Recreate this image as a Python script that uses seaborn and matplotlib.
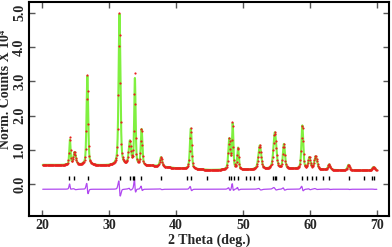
import numpy as np
import pandas as pd
import matplotlib
matplotlib.use('Agg')
import matplotlib.pyplot as plt
import seaborn as sns

# peak list: position (deg), total height (x10^4), fwhm (deg)
peak_pos = [24.15, 24.85, 26.75, 31.55, 33.1, 33.85, 34.85, 37.75, 42.2,
            47.95, 48.45, 49.25, 52.5, 54.75, 56.1, 58.85, 59.9, 60.85,
            62.85, 65.75, 69.5]
obs_height = [1.40, 0.92, 3.18, 4.98, 1.22, 3.20, 1.62, 0.78, 1.65,
              1.30, 1.82, 1.06, 1.12, 1.52, 1.16, 1.73, 0.76, 0.81,
              0.57, 0.56, 0.50]
calc_height = [1.28, 0.92, 3.15, 4.95, 1.22, 3.05, 1.58, 0.78, 1.62,
               1.30, 1.72, 1.04, 1.12, 1.50, 1.15, 1.70, 0.76, 0.80,
               0.57, 0.56, 0.50]
fwhm = [0.22, 0.45, 0.28, 0.32, 0.40, 0.24, 0.28, 0.40, 0.32,
        0.35, 0.24, 0.28, 0.50, 0.50, 0.35, 0.32, 0.40, 0.50,
        0.40, 0.40, 0.50]

# background level read at a few points
bg_x = [20, 25, 30, 35, 36.5, 40, 45, 50, 57.5, 60, 65, 70]
bg_y = [0.56, 0.55, 0.54, 0.52, 0.53, 0.46, 0.41, 0.41, 0.44, 0.42, 0.40, 0.39]

# Bragg reflection positions
bragg = [24.0, 24.7, 26.8, 31.6, 33.1, 33.6, 33.8, 34.7, 37.7, 41.7, 42.2,
         44.7, 47.9, 48.2, 48.6, 49.2, 50.5, 51.1, 51.7, 52.4, 54.5, 54.8,
         55.0, 56.1, 58.8, 59.6, 60.3, 60.9, 62.0, 62.8, 65.8, 68.0, 69.2, 69.5]

diff_offset = -0.15
bragg_level = 0.17
calc_shift = 0.012


def profile(x, heights, shift):
    bg = np.interp(x, bg_x, bg_y)
    y = bg.copy()
    for p, h, w in zip(peak_pos, heights, fwhm):
        amp = h - np.interp(p, bg_x, bg_y)
        hw = w / 2
        u = (x - p - shift) / hw
        y += amp * (0.5 / (1 + u ** 2) + 0.5 * np.exp(-np.log(2) * u ** 2))
    return y


tt = np.arange(20.1, 70.0, 0.02)
obs = profile(tt, obs_height, 0.0)
calc = profile(tt, calc_height, calc_shift)
df = pd.DataFrame({'tt': tt, 'obs': obs, 'calc': calc,
                   'diff': obs - calc + diff_offset})

sns.set_style('ticks')
plt.rcParams['font.family'] = ['Liberation Serif', 'DejaVu Serif']
plt.rcParams['font.weight'] = 'bold'

fig = plt.figure(figsize=(3.92, 2.47), dpi=100)
ax = fig.add_axes([29 / 392, 31 / 247, 360 / 392, 214 / 247])

sns.lineplot(data=df, x='tt', y='calc', color='#80f040', lw=1.5, ax=ax)
sns.scatterplot(data=df.iloc[::4], x='tt', y='obs', color='#e82020', s=2.5,
                linewidth=0, ax=ax, zorder=3)
sns.lineplot(data=df, x='tt', y='diff', color='#b048f0', lw=0.9, ax=ax)
ax.plot(bragg, [bragg_level] * len(bragg), ls='none', marker='|',
        color='black', ms=3, mew=1)

ax.set_xlim(18.05, 71.8)
ax.set_ylim(-0.93, 5.31)
ax.set_xticks([20, 30, 40, 50, 60, 70])
ax.set_yticks([0, 1, 2, 3, 4, 5])
ax.set_xticklabels(['20', '30', '40', '50', '60', '70'], fontsize=10,
                   fontweight='bold')
ax.set_yticklabels(['0.0', '1.0', '2.0', '3.0', '4.0', '5.0'], fontsize=10,
                   fontweight='bold', rotation=90, va='center')
ax.tick_params(direction='in', length=4, width=1, color='#555555',
               top=True, right=True, pad=2)
for s in ax.spines.values():
    s.set_linewidth(1.5)
    s.set_color('black')

ax.set_xlabel('2 Theta (deg.)', fontsize=10, fontweight='bold', labelpad=1)
ax.set_ylabel('Norm. Counts X 10\u2074', fontsize=10, fontweight='bold')
ax.yaxis.set_label_coords(-0.047, 0.59)

fig.savefig('out.png', dpi=100)
